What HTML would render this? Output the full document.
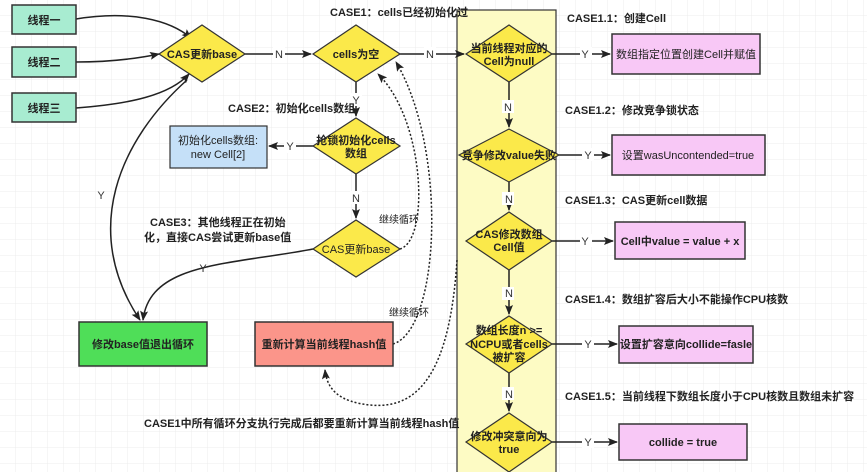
<!DOCTYPE html>
<html><head><meta charset="utf-8"><style>
html,body{margin:0;padding:0;background:#fff;}
svg{display:block;}
text{font-family:"Liberation Sans","Noto Sans CJK SC",sans-serif;}
</style></head><body>
<svg width="867" height="472" viewBox="0 0 867 472" xmlns="http://www.w3.org/2000/svg">
<defs>
<pattern id="g" width="16" height="16" patternUnits="userSpaceOnUse"><path d="M16 0V16H0" fill="none" stroke="#ececec" stroke-width="1"/></pattern>
<marker id="a" markerWidth="10" markerHeight="8" refX="9" refY="4" orient="auto" markerUnits="userSpaceOnUse"><path d="M0,0 L10,4 L0,8 L2,4z" fill="#222"/></marker>
</defs>
<rect width="867" height="472" fill="url(#g)"/>
<!-- yellow column -->
<rect x="457" y="10" width="99" height="470" fill="#fdfbc4" stroke="#333" stroke-width="1.2"/>

<g stroke="#222" stroke-width="1.5" fill="none">
<!-- threads to CAS -->
<path d="M76,19 C130,10 170,20 191,38" marker-end="url(#a)"/>
<path d="M76,62 C110,62 140,58 159,54" marker-end="url(#a)"/>
<path d="M76,108 C130,104 170,95 189,74" marker-end="url(#a)"/>
<path d="M245,54 H311" marker-end="url(#a)"/>
<path d="M400,54 H464" marker-end="url(#a)"/>
<path d="M356,82 V116" marker-end="url(#a)"/>
<path d="M313,146 H269" marker-end="url(#a)"/>
<path d="M356,174 V218" marker-end="url(#a)"/>
<path d="M187,80 C120,140 80,230 140,320" marker-end="url(#a)"/>
<path d="M313,249 C230,265 150,262 143,320" marker-end="url(#a)"/>
<path d="M552,54 H610" marker-end="url(#a)"/>
<path d="M509,82 V127" marker-end="url(#a)"/>
<path d="M559,155 H610" marker-end="url(#a)"/>
<path d="M509,182 V210" marker-end="url(#a)"/>
<path d="M552,241 H613" marker-end="url(#a)"/>
<path d="M509,270 V314" marker-end="url(#a)"/>
<path d="M552,344 H617" marker-end="url(#a)"/>
<path d="M509,373 V411" marker-end="url(#a)"/>
<path d="M552,442 H617" marker-end="url(#a)"/>
</g>
<g stroke="#222" stroke-width="1.5" fill="none" stroke-dasharray="2,2">
<path d="M400,249 C430,240 425,120 378,74" marker-end="url(#a)"/>
<path d="M393,344 C440,330 448,150 396,62" marker-end="url(#a)"/>
<path d="M457,260 C450,370 420,410 370,405 C340,402 327,390 325,370" marker-end="url(#a)"/>
</g>
<!-- edge labels -->
<g font-size="11" fill="#333" text-anchor="middle">
<rect x="273" y="47" width="12" height="13" fill="#fff"/><text x="279" y="58">N</text>
<rect x="424" y="47" width="12" height="13" fill="#fff"/><text x="430" y="58">N</text>
<rect x="350" y="93" width="12" height="13" fill="#fff"/><text x="356" y="104">Y</text>
<rect x="284" y="140" width="12" height="13" fill="#fff"/><text x="290" y="150">Y</text>
<rect x="350" y="191" width="12" height="13" fill="#fff"/><text x="356" y="202">N</text>
<text x="101" y="199">Y</text>
<text x="203" y="272">Y</text>
<rect x="580" y="47" width="12" height="13" fill="#fff"/><text x="585" y="58">Y</text>
<rect x="502" y="100" width="12" height="13" fill="#fff"/><text x="508" y="111">N</text>
<rect x="582" y="148" width="12" height="13" fill="#fff"/><text x="588" y="159">Y</text>
<rect x="502" y="192" width="12" height="13" fill="#fff"/><text x="509" y="203">N</text>
<rect x="580" y="234" width="12" height="13" fill="#fff"/><text x="585" y="245">Y</text>
<rect x="502" y="287" width="12" height="13" fill="#fff"/><text x="509" y="297">N</text>
<rect x="582" y="337" width="12" height="13" fill="#fff"/><text x="588" y="348">Y</text>
<rect x="502" y="387" width="12" height="13" fill="#fff"/><text x="509" y="398">N</text>
<rect x="582" y="435" width="12" height="13" fill="#fff"/><text x="588" y="446">Y</text>
</g>
<!-- thread boxes -->
<g stroke="#333" stroke-width="1.5" fill="#a8ecd1">
<rect x="12" y="5" width="64" height="29"/>
<rect x="12" y="47" width="64" height="30"/>
<rect x="12" y="93" width="64" height="29"/>
</g>
<!-- diamonds -->
<g stroke="#333" stroke-width="1.2" fill="#fbe94a">
<polygon points="159,54 202,25 245,54 202,82"/>
<polygon points="313,54 356,25 400,54 356,82"/>
<polygon points="313,146 356,118 400,146 356,174"/>
<polygon points="313,249 356,220 400,249 356,277"/>
<polygon points="466,54 509,25 552,54 509,82"/>
<polygon points="459,155 509,129 559,155 509,182"/>
<polygon points="466,241 509,212 552,241 509,270"/>
<polygon points="466,344 509,316 552,344 509,373"/>
<polygon points="466,442 509,413 552,442 509,472"/>
</g>
<!-- boxes -->
<rect x="170" y="126" width="97" height="42" fill="#c5e0f8" stroke="#333" stroke-width="1.2"/>
<rect x="79" y="322" width="128" height="44" fill="#4fde58" stroke="#333" stroke-width="1.5"/>
<rect x="255" y="322" width="138" height="44" fill="#fb958a" stroke="#333" stroke-width="1.5"/>
<g fill="#f8c8f6" stroke="#333" stroke-width="1.5">
<rect x="612" y="34" width="148" height="40"/>
<rect x="612" y="135" width="153" height="40"/>
<rect x="615" y="222" width="130" height="37"/>
<rect x="619" y="326" width="134" height="37"/>
<rect x="619" y="424" width="128" height="36"/>
</g>
<!-- node text -->
<g font-size="11" fill="#222" text-anchor="middle" font-weight="bold">
<text x="44" y="24">线程一</text>
<text x="44" y="66">线程二</text>
<text x="44" y="112">线程三</text>
<text x="202" y="58">CAS更新base</text>
<text x="356" y="58">cells为空</text>
<text x="356" y="144">抢锁初始化cells</text>
<text x="356" y="157">数组</text>
<text x="356" y="253" font-weight="normal">CAS更新base</text>
<text x="218" y="144" font-weight="normal">初始化cells数组:</text>
<text x="218" y="158" font-weight="normal">new Cell[2]</text>
<text x="143" y="348">修改base值退出循环</text>
<text x="324" y="348">重新计算当前线程hash值</text>
<text x="509" y="52">当前线程对应的</text>
<text x="509" y="65">Cell为null</text>
<text x="509" y="159">竞争修改value失败</text>
<text x="509" y="238">CAS修改数组</text>
<text x="509" y="251">Cell值</text>
<text x="509" y="334">数组长度n &gt;=</text>
<text x="509" y="348">NCPU或者cells</text>
<text x="509" y="361">被扩容</text>
<text x="509" y="440">修改冲突意向为</text>
<text x="509" y="453">true</text>
<text x="686" y="58" font-weight="normal">数组指定位置创建Cell并赋值</text>
<text x="688" y="159" font-weight="normal">设置wasUncontended=true</text>
<text x="680" y="245">Cell中value = value + x</text>
<text x="686" y="348">设置扩容意向collide=fasle</text>
<text x="683" y="446">collide = true</text>
</g>
<!-- annotations -->
<g font-size="11" fill="#222" font-weight="bold">
<text x="330" y="16">CASE1：cells已经初始化过</text>
<text x="228" y="112">CASE2：初始化cells数组</text>
<text x="150" y="226">CASE3：其他线程正在初始</text>
<text x="144" y="241">化，直接CAS尝试更新base值</text>
<text x="567" y="22">CASE1.1：创建Cell</text>
<text x="565" y="114">CASE1.2：修改竞争锁状态</text>
<text x="565" y="204">CASE1.3：CAS更新cell数据</text>
<text x="565" y="303">CASE1.4：数组扩容后大小不能操作CPU核数</text>
<text x="565" y="400">CASE1.5：当前线程下数组长度小于CPU核数且数组未扩容</text>
<text x="144" y="427">CASE1中所有循环分支执行完成后都要重新计算当前线程hash值</text>
<text x="379" y="223" font-weight="normal" font-size="10">继续循环</text>
<text x="389" y="316" font-weight="normal" font-size="10">继续循环</text>
</g>
</svg>
</body></html>
